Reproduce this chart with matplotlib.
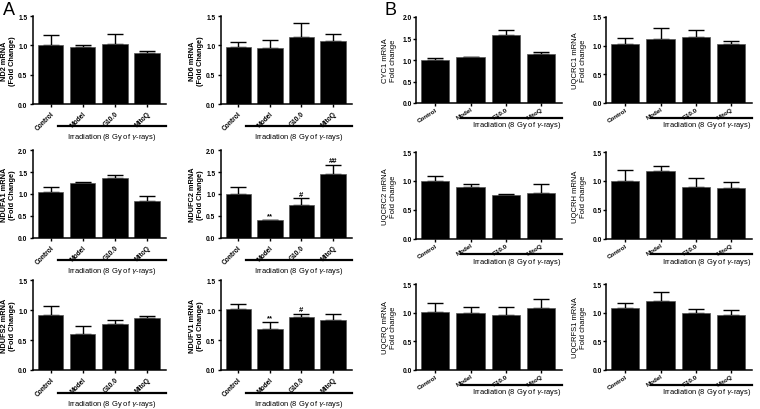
import numpy as np
import matplotlib
matplotlib.use('Agg')
import matplotlib.pyplot as plt

groups = ['Control', 'Model', 'G10.0', 'MitoQ']

# panel A (complex I subunits)
nd2 = [1.01, 0.97, 1.03, 0.87]
nd2_err = [0.16, 0.03, 0.16, 0.03]
nd6 = [0.97, 0.95, 1.14, 1.07]
nd6_err = [0.09, 0.14, 0.24, 0.13]
ndufa1 = [1.04, 1.26, 1.36, 0.84]
ndufa1_err = [0.13, 0.01, 0.08, 0.11]
ndufc2 = [1.01, 0.41, 0.75, 1.46]
ndufc2_err = [0.16, 0.01, 0.16, 0.21]
ndufc2_sig = ['', '**', '#', '##']
ndufs2 = [0.92, 0.60, 0.77, 0.86]
ndufs2_err = [0.15, 0.13, 0.06, 0.04]
ndufv1 = [1.02, 0.69, 0.89, 0.84]
ndufv1_err = [0.08, 0.11, 0.05, 0.09]
ndufv1_sig = ['', '**', '#', '']

# panel B (complex III subunits)
cyc1 = [1.00, 1.06, 1.58, 1.13]
cyc1_err = [0.05, 0.01, 0.11, 0.06]
uqcrc1 = [1.03, 1.12, 1.15, 1.03]
uqcrc1_err = [0.11, 0.18, 0.12, 0.06]
uqcrc2 = [1.00, 0.89, 0.76, 0.80]
uqcrc2_err = [0.09, 0.06, 0.02, 0.14]
uqcrh = [1.00, 1.17, 0.90, 0.88]
uqcrh_err = [0.19, 0.09, 0.16, 0.10]
uqcrq = [1.02, 1.00, 0.96, 1.08]
uqcrq_err = [0.15, 0.10, 0.14, 0.15]
uqcrfs1 = [1.08, 1.21, 1.00, 0.96]
uqcrfs1_err = [0.08, 0.15, 0.06, 0.09]

W, H = 760, 410
fig = plt.figure(figsize=(W/100, H/100), dpi=100)
plt.rcParams['font.family'] = ['Liberation Sans', 'DejaVu Sans']

def px_axes(l, r, t, b):
    return fig.add_axes([l/W, 1-b/H, (r-l)/W, (b-t)/H])

def panel(box, vals, errs, ymax, ylab, kind, sig=None):
    ax = px_axes(*box)
    x = np.arange(len(groups))
    ax.bar(x, vals, width=0.8, color='black', edgecolor='#555555',
           linewidth=0.5, zorder=2)
    ax.errorbar(x, vals, yerr=[np.zeros(len(errs)), errs], fmt='none',
                ecolor='black', elinewidth=1.0, capsize=5.5, capthick=1.0,
                zorder=1)
    ax.set_xlim(-0.55, 3.6)
    ax.set_ylim(0, ymax)
    ticks = np.arange(0, ymax+0.01, 0.5)
    ax.set_yticks(ticks)
    ax.set_yticklabels([f'{v:.1f}' for v in ticks], fontsize=4.8,
                       fontweight='bold')
    ax.set_xticks(x)
    for s in ['top', 'right']:
        ax.spines[s].set_visible(False)
    for s in ['left', 'bottom']:
        ax.spines[s].set_linewidth(1.1)
    if kind == 'A':
        ax.set_xticklabels(groups, rotation=45, ha='right',
                           rotation_mode='anchor', fontsize=4.8,
                           fontweight='bold')
        ax.tick_params(width=1.0, length=2.5, pad=1.5)
        ax.set_ylabel(ylab, fontsize=5.3, fontweight='bold', labelpad=1.5,
                      linespacing=1.1)
        x0, yl, yt, xt = 0.19, -0.25, -0.37, 0.59
    else:
        ax.set_xticklabels(groups, rotation=32, ha='right',
                           rotation_mode='anchor', fontsize=4.5,
                           fontweight='bold')
        ax.tick_params(width=1.0, length=2.0, pad=1.0)
        ax.tick_params(axis='x', pad=0.5)
        ax.set_ylabel(ylab, fontsize=5.5, labelpad=4, linespacing=1.15)
        x0, yl, yt, xt = 0.31, -0.17, -0.255, 0.69
    if sig:
        for i, s in enumerate(sig):
            if s:
                ax.text(i, vals[i]+errs[i]+ymax*0.004, s, ha='center',
                        va='bottom', fontsize=5.5, fontweight='bold')
    ax.plot([x0, 1.0], [yl, yl], color='black', lw=1.6,
            transform=ax.transAxes, clip_on=False)
    ax.text(xt, yt, 'Irradiation (8 Gy of $\\gamma$-rays)', ha='center',
            va='center', fontsize=5.4, transform=ax.transAxes)
    return ax

colA = [(33, 166), (221, 352)]
rowA = [(17, 105), (151, 239), (281, 371)]
colB = [(416, 562), (606, 752)]
rowB = [(18, 104), (153, 240), (285, 371)]

panel(colA[0]+rowA[0], nd2, nd2_err, 1.5, 'ND2 mRNA\n(Fold Change)', 'A')
panel(colA[1]+rowA[0], nd6, nd6_err, 1.5, 'ND6 mRNA\n(Fold Change)', 'A')
panel(colA[0]+rowA[1], ndufa1, ndufa1_err, 2.0, 'NDUFA1 mRNA\n(Fold Change)', 'A')
panel(colA[1]+rowA[1], ndufc2, ndufc2_err, 2.0, 'NDUFC2 mRNA\n(Fold Change)', 'A',
      ndufc2_sig)
panel(colA[0]+rowA[2], ndufs2, ndufs2_err, 1.5, 'NDUFS2 mRNA\n(Fold Change)', 'A')
panel(colA[1]+rowA[2], ndufv1, ndufv1_err, 1.5, 'NDUFV1 mRNA\n(Fold Change)', 'A',
      ndufv1_sig)

panel(colB[0]+rowB[0], cyc1, cyc1_err, 2.0, 'CYC1 mRNA\nFold change', 'B')
panel(colB[1]+rowB[0], uqcrc1, uqcrc1_err, 1.5, 'UQCRC1 mRNA\nFold change', 'B')
panel(colB[0]+rowB[1], uqcrc2, uqcrc2_err, 1.5, 'UQCRC2 mRNA\nFold change', 'B')
panel(colB[1]+rowB[1], uqcrh, uqcrh_err, 1.5, 'UQCRH mRNA\nFold change', 'B')
panel(colB[0]+rowB[2], uqcrq, uqcrq_err, 1.5, 'UQCRQ mRNA\nFold change', 'B')
panel(colB[1]+rowB[2], uqcrfs1, uqcrfs1_err, 1.5, 'UQCRFS1 mRNA\nFold change', 'B')

fig.text(3/W, 1-2/H, 'A', fontsize=13, ha='left', va='top')
fig.text(384/W, 1-2/H, 'B', fontsize=13, ha='left', va='top')

fig.savefig('out.png', dpi=100)
